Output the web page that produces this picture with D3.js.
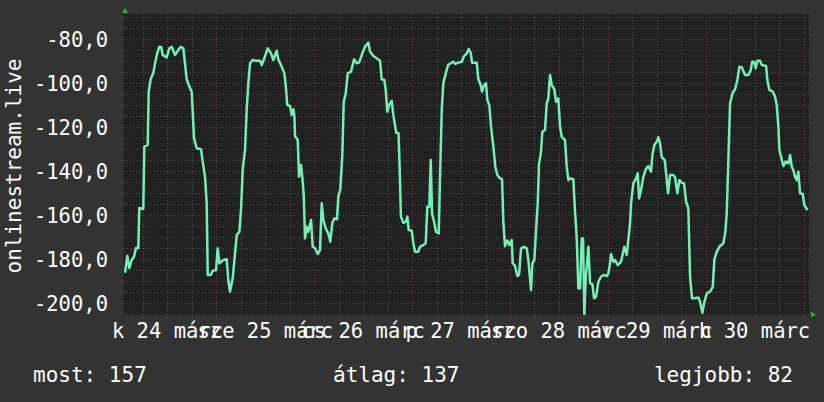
<!DOCTYPE html>
<html>
<head>
<meta charset="utf-8">
<script src="https://cdn.jsdelivr.net/npm/d3@7"></script>
<style>
  body { margin: 0; background: #333333; }
  svg { display: block; }
  text { font-family: "DejaVu Sans Mono", monospace; fill: #ffffff; }
</style>
</head>
<body>
<script>
var w = 824,
  h = 402;

// time axis: one week, samples given in hours after the start
var startTime = Date.UTC(2015, 2, 24, 1, 20);
var spanHours = 168;

var hours = [
  0.25, 0.81, 1.30, 1.89, 2.45, 2.94, 3.51, 3.75, 4.73, 4.98,
  5.81, 6.06, 6.55, 7.19, 7.68, 8.17, 8.66, 9.15, 9.49, 10.47,
  11.11, 11.70, 12.51, 13.32, 13.91, 14.55, 14.96, 15.38, 16.02, 16.61,
  17.17, 17.83, 18.89, 19.30, 19.87, 20.28, 20.53, 21.27, 21.76, 22.57,
  22.98, 23.38, 24.36, 25.19, 25.58, 26.00, 26.66, 27.23, 27.64, 28.28,
  28.70, 29.11, 29.68, 30.10, 30.49, 30.91, 31.57, 32.13, 33.36, 33.78,
  34.41, 35.25, 36.06, 36.62, 37.45, 37.85, 38.68, 39.32, 39.66, 40.05,
  40.72, 41.13, 41.53, 41.77, 41.94, 42.61, 42.92, 43.41, 43.73, 44.08,
  44.40, 44.81, 45.21, 45.87, 46.28, 46.85, 47.51, 48.07, 48.49, 48.88,
  49.47, 50.11, 50.60, 51.09, 51.58, 52.24, 52.56, 53.05, 53.54, 53.89,
  54.38, 54.87, 55.68, 56.42, 57.08, 57.64, 58.45, 59.11, 59.92, 60.34,
  61.15, 61.98, 62.79, 63.21, 63.85, 64.19, 64.58, 65.00, 65.66, 66.05,
  66.77, 67.33, 67.57, 67.92, 68.51, 69.17, 69.49, 69.83, 70.57, 70.96,
  71.38, 72.18, 72.60, 73.41, 74.00, 74.39, 74.88, 75.23, 75.55, 76.04,
  76.53, 77.19, 77.51, 77.93, 78.32, 78.91, 79.47, 80.13, 80.77, 81.26,
  82.00, 82.83, 83.40, 84.06, 84.55, 85.04, 85.36, 86.51, 86.90, 87.49,
  87.81, 88.30, 88.79, 89.11, 89.60, 90.02, 90.58, 91.07, 91.56, 92.23,
  92.72, 93.03, 93.45, 94.02, 94.51, 95.09, 95.34, 95.90, 96.47, 96.89,
  97.38, 98.11, 98.77, 99.17, 99.83, 100.15, 100.64, 100.98, 101.47, 101.79,
  102.28, 102.60, 103.26, 103.68, 104.07, 104.49, 104.90, 105.54, 105.96, 106.52,
  106.94, 107.35, 108.16, 108.58, 108.98, 109.39, 110.20, 110.62, 111.04, 111.43,
  111.85, 112.26, 112.58, 112.90, 113.25, 113.57, 113.89, 114.31, 114.87, 115.28,
  115.77, 116.34, 117.00, 117.56, 118.40, 118.79, 119.21, 119.45, 120.02, 120.43,
  121.09, 121.90, 122.32, 122.71, 123.30, 123.69, 124.11, 124.36, 124.92, 125.51,
  126.00, 126.32, 126.81, 127.37, 127.96, 128.60, 129.26, 129.58, 130.07, 130.66,
  131.05, 131.47, 131.89, 132.62, 132.94, 133.43, 133.92, 134.73, 135.15, 135.71,
  136.20, 136.79, 137.36, 137.85, 138.41, 138.83, 139.32, 140.06, 140.86, 141.28,
  141.85, 142.34, 142.93, 143.74, 144.40, 144.79, 145.38, 146.02, 147.00, 147.49,
  147.83, 148.22, 148.64, 149.30, 149.87, 150.43, 150.92, 151.51, 152.32, 153.13,
  153.72, 154.03, 154.53, 154.94, 155.34, 156.00, 156.41, 157.47, 157.79, 158.28,
  159.11, 159.68, 160.09, 160.49, 160.73, 161.15, 161.71, 162.30, 162.94, 163.36,
  163.77, 164.16, 164.58, 165.00, 165.39, 165.81, 166.47, 166.86, 167.60
];

var values = [
  -186.1, -178.5, -184.0, -180.3, -178.8, -174.9, -174.9, -156.7, -157.1, -128.8,
  -128.0, -103.8, -98.0, -95.3, -90.2, -86.2, -83.4, -83.6, -87.1, -88.2,
  -84.1, -83.4, -87.1, -84.9, -83.4, -84.1, -90.9, -98.2, -101.5, -103.8,
  -125.0, -129.5, -130.0, -135.6, -142.5, -154.5, -187.1, -187.1, -185.2, -184.9,
  -175.0, -181.8, -180.3, -180.0, -189.4, -194.7, -188.6, -177.3, -169.0, -167.5,
  -157.6, -139.4, -130.3, -111.4, -100.0, -90.9, -89.4, -89.7, -89.7, -91.7,
  -88.6, -84.1, -86.4, -89.4, -85.2, -89.1, -92.5, -95.5, -100.8, -109.9,
  -110.3, -114.4, -111.8, -114.4, -124.0, -125.8, -142.5, -137.1, -142.5, -150.8,
  -170.5, -165.2, -167.5, -162.1, -174.3, -175.0, -177.6, -175.8, -154.5, -162.1,
  -165.9, -168.2, -172.0, -163.4, -161.4, -161.8, -151.5, -148.2, -132.6, -108.4,
  -104.5, -95.5, -94.7, -89.1, -90.9, -90.6, -86.4, -83.4, -81.5, -85.6,
  -87.6, -88.6, -89.7, -98.2, -98.5, -103.0, -112.9, -109.9, -107.9, -114.4,
  -122.5, -122.7, -136.4, -160.6, -163.4, -162.9, -160.6, -166.7, -167.0, -172.7,
  -176.5, -176.5, -174.3, -173.5, -172.7, -156.1, -156.1, -134.9, -159.1, -162.9,
  -167.5, -168.2, -142.5, -112.1, -100.0, -95.5, -91.7, -90.9, -90.2, -91.2,
  -90.6, -90.2, -87.6, -86.4, -84.4, -86.1, -90.6, -90.6, -98.2, -100.8,
  -103.8, -100.8, -100.0, -107.6, -109.9, -119.7, -128.8, -137.9, -141.7, -143.2,
  -143.6, -162.9, -174.0, -171.5, -173.5, -171.2, -181.8, -183.0, -187.6, -187.1,
  -175.0, -174.3, -175.0, -180.3, -194.0, -181.8, -180.3, -169.0, -154.5, -136.4,
  -131.1, -122.0, -121.2, -109.1, -106.8, -96.2, -100.8, -102.7, -108.4, -106.8,
  -119.7, -124.3, -125.8, -137.9, -144.0, -143.2, -143.6, -158.4, -170.5, -193.2,
  -193.2, -170.5, -170.5, -205.3, -187.9, -181.8, -174.3, -190.9, -191.2, -197.7,
  -197.0, -190.2, -187.9, -187.1, -187.6, -186.4, -181.8, -177.6, -181.1, -180.3,
  -182.6, -181.1, -177.6, -174.3, -178.0, -171.2, -163.6, -154.5, -145.5, -143.6,
  -140.9, -152.3, -148.5, -142.5, -139.1, -137.6, -140.2, -132.6, -128.0, -126.5,
  -124.5, -127.3, -133.5, -134.9, -140.6, -150.0, -141.7, -141.7, -142.7, -150.0,
  -144.0, -145.2, -145.5, -153.8, -156.8, -187.9, -197.7, -197.7, -197.3, -199.3,
  -204.3, -199.3, -195.5, -194.7, -192.5, -180.0, -176.5, -174.3, -172.7, -167.5,
  -158.8, -134.9, -109.1, -104.3, -102.7, -98.5, -92.5, -92.7, -96.2, -96.2,
  -94.0, -90.2, -90.2, -93.2, -89.7, -89.7, -91.7, -92.1, -98.5, -103.0,
  -103.8, -106.1, -109.9, -119.7, -130.3, -133.4, -137.6, -135.6, -136.4, -132.6,
  -137.9, -139.4, -142.5, -144.0, -140.2, -150.0, -150.3, -155.3, -157.6
];

var yTicks = [-200, -180, -160, -140, -120, -100, -80];
var yDomain = [-205.3, -68.5];

var dayNumbers = [24, 25, 26, 27, 28, 29, 30];
var dayLabels = ['k 24 márc', 'sze 25 márc', 'cs 26 márc', 'p 27 márc', 'szo 28 márc', 'v 29 márc', 'h 30 márc'];

var legendLabels = ['most: 157', 'átlag: 137', 'legjobb: 82'];
var yTitle = 'onlinestream.live';

var data = hours.map(function (hr, i) {
  return { t: new Date(startTime + hr * 3600000), v: values[i] };
});

var plotL = 124, plotR = 809, plotT = 14, plotB = 315;

var x = d3.scaleUtc()
  .domain([new Date(startTime), new Date(startTime + spanHours * 3600000)])
  .range([plotL, plotR]);

var y = d3.scaleLinear()
  .domain(yDomain)
  .range([plotB, plotT]);

var huLocale = d3.formatLocale({ decimal: ',', thousands: ' ', grouping: [3], currency: ['', ''], minus: '-' });
var fmt = huLocale.format('.1f');

var svg = d3.select('body').append('svg')
  .attr('width', w)
  .attr('height', h);

svg.append('rect')
  .attr('width', w)
  .attr('height', h)
  .attr('fill', '#333333');

svg.append('rect')
  .attr('x', plotL)
  .attr('y', plotT)
  .attr('width', plotR - plotL)
  .attr('height', plotB - plotT)
  .attr('fill', '#212121');

svg.append('clipPath')
  .attr('id', 'plotclip')
  .append('rect')
  .attr('x', plotL)
  .attr('y', plotT)
  .attr('width', plotR - plotL)
  .attr('height', plotB - plotT);

// grid
var gridMajor = '#6e3c3c',
  gridMinor = '#4f4f4f';

var vLines = d3.utcHour.every(6).range(x.domain()[0], x.domain()[1]);
svg.append('g').selectAll('line')
  .data(vLines)
  .enter().append('line')
  .attr('x1', function (d) { return Math.round(x(d)) + 0.5; })
  .attr('x2', function (d) { return Math.round(x(d)) + 0.5; })
  .attr('y1', plotT)
  .attr('y2', plotB + 3)
  .attr('stroke', function (d) { return d.getUTCHours() === 0 ? gridMajor : gridMinor; })
  .attr('stroke-dasharray', '1,2');

var hLines = d3.range(-205, -68, 5);
svg.append('g').selectAll('line')
  .data(hLines)
  .enter().append('line')
  .attr('x1', plotL - 3)
  .attr('x2', plotR)
  .attr('y1', function (d) { return Math.round(y(d)) + 0.5; })
  .attr('y2', function (d) { return Math.round(y(d)) + 0.5; })
  .attr('stroke', function (d) { return d % 20 === 0 ? gridMajor : gridMinor; })
  .attr('stroke-dasharray', '1,2');

// axes lines
svg.append('line')
  .attr('x1', plotL - 0.5).attr('x2', plotL - 0.5)
  .attr('y1', plotT - 2).attr('y2', plotB + 3)
  .attr('stroke', '#2a2a2a').attr('stroke-width', 1);
svg.append('line')
  .attr('x1', plotL - 3).attr('x2', plotR + 3)
  .attr('y1', plotB + 0.5).attr('y2', plotB + 0.5)
  .attr('stroke', '#2a2a2a').attr('stroke-width', 1);

// data line
var line = d3.line()
  .x(function (d) { return x(d.t); })
  .y(function (d) { return y(d.v); });

svg.append('path')
  .datum(data)
  .attr('clip-path', 'url(#plotclip)')
  .attr('d', line)
  .attr('fill', 'none')
  .attr('stroke', '#74efb5')
  .attr('stroke-width', 2.5)
  .attr('stroke-linejoin', 'round');

// arrows
svg.append('path')
  .attr('d', 'M122,13L128,13L125,8Z')
  .attr('fill', '#10c810');
svg.append('path')
  .attr('d', 'M811,311.5L811,317.5L816,314.5Z')
  .attr('fill', '#10c810');

// y labels
svg.append('g').selectAll('text')
  .data(yTicks)
  .enter().append('text')
  .attr('x', 108)
  .attr('y', function (d) { return y(d) + 7.5; })
  .attr('text-anchor', 'end')
  .style('font-size', '20.5px')
  .text(function (d) { return fmt(d); });

// x labels centred at noon
svg.append('g').selectAll('text')
  .data(dayNumbers)
  .enter().append('text')
  .attr('x', function (d) { return x(new Date(Date.UTC(2015, 2, d, 12))); })
  .attr('y', 338)
  .attr('text-anchor', 'middle')
  .style('font-size', '20.5px')
  .text(function (d, i) { return dayLabels[i]; });

// y title
svg.append('text')
  .attr('transform', 'translate(21,166) rotate(-90)')
  .attr('text-anchor', 'middle')
  .style('font-size', '21px')
  .text(yTitle);

// legend
var legendX = [33, 333, 793];
var legendAnchor = ['start', 'start', 'end'];
svg.append('g').selectAll('text')
  .data(legendLabels)
  .enter().append('text')
  .attr('x', function (d, i) { return legendX[i]; })
  .attr('y', 382)
  .attr('text-anchor', function (d, i) { return legendAnchor[i]; })
  .style('font-size', '21px')
  .text(function (d) { return d; });
</script>
</body>
</html>
